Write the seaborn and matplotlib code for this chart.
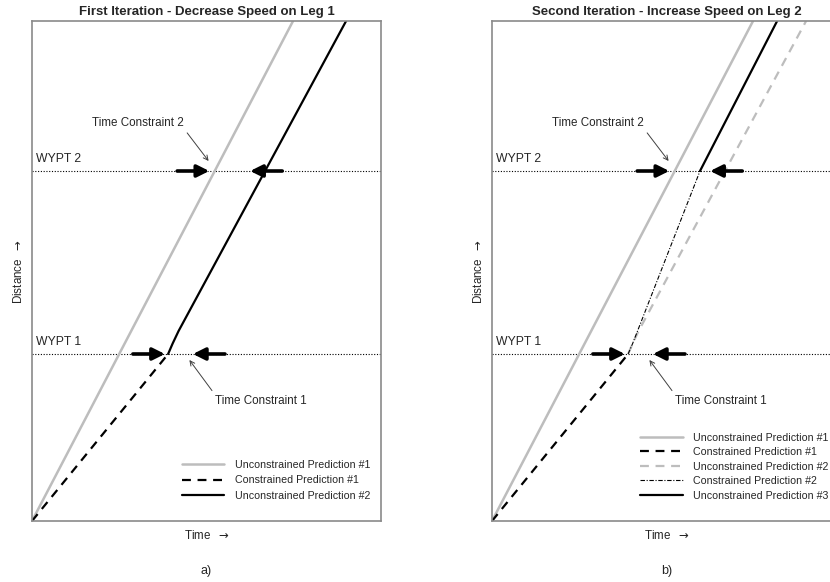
import matplotlib
matplotlib.use('Agg')
import matplotlib.pyplot as plt
import pandas as pd
import seaborn as sns

# distance/time in arbitrary units (axes span 0..100 on both)
wypt_names = ['WYPT 1', 'WYPT 2']
wypt_dist = [33.4, 70.0]
window_open = [38.1, 50.8]    # earliest allowed arrival time at each waypoint
window_close = [46.1, 62.5]   # latest allowed arrival time

unc1_time = [0.0, 74.8]
unc1_dist = [0.0, 100.0]
con1_time = [0.0, 39.0]
con1_dist = [0.0, 33.4]
unc2_time = [39.0, 40.3, 42.0, 90.0]
unc2_dist = [33.4, 35.5, 38.0, 100.0]
con2_time = [39.0, 40.3, 59.6]
con2_dist = [33.4, 35.5, 70.0]
unc3_time = [59.6, 81.7]
unc3_dist = [70.0, 100.0]

GRAY = '#bdbdbd'
SPINE = '#8a8a8a'
FONT = ['Liberation Sans', 'DejaVu Sans']
ARROW = r'$\rightarrow$'

sns.set_style('white')
plt.rcParams['font.family'] = FONT
plt.rcParams['font.size'] = 8.4
plt.rcParams['mathtext.fontset'] = 'dejavusans'

series = {
    'Unconstrained Prediction #1': (unc1_time, unc1_dist, dict(color=GRAY, lw=1.8, linestyle='-')),
    'Constrained Prediction #1': (con1_time, con1_dist, dict(color='black', lw=1.6, linestyle=(0, (4, 3)))),
    'Unconstrained Prediction #2': (unc2_time, unc2_dist, dict(color='black', lw=1.6, linestyle='-')),
    'Unconstrained Prediction #2 (b)': (unc2_time, unc2_dist, dict(color=GRAY, lw=1.6, linestyle=(0, (4, 3)))),
    'Constrained Prediction #2': (con2_time, con2_dist, dict(color='black', lw=0.8, linestyle=(0, (4, 1.5, 1, 1.5)))),
    'Unconstrained Prediction #3': (unc3_time, unc3_dist, dict(color='black', lw=1.6, linestyle='-')),
}


def draw_series(ax, key):
    t, d, style = series[key]
    label = key.replace(' (b)', '')
    sns.lineplot(data=pd.DataFrame({'time': t, 'dist': d}), x='time', y='dist', ax=ax,
                 sort=False, estimator=None, label=label, **style)


def decorate(ax, title, tag):
    ax.set_xlim(0, 100)
    ax.set_ylim(0, 100)
    ax.set_xticks([])
    ax.set_yticks([])
    for sp in ax.spines.values():
        sp.set_color(SPINE)
        sp.set_linewidth(1.2)
    ax.set_title(title, fontweight='bold', fontsize=9.5, pad=4)
    ax.set_xlabel('Time  ' + ARROW, labelpad=6)
    ax.set_ylabel('Distance  ' + ARROW, labelpad=5)
    ax.text(0.5, -0.1, tag, transform=ax.transAxes, ha='center', va='center', fontsize=9)
    for name, d, lo, hi in zip(wypt_names, wypt_dist, window_open, window_close):
        ax.axhline(d, color='black', lw=0.8, linestyle=(0, (1, 1.5)), zorder=1)
        ax.text(1.2, d + 1.2, name, ha='left', va='bottom', fontsize=8.8)
        arr = dict(arrowstyle='-|>', color='black', lw=2.6, mutation_scale=18, shrinkA=0, shrinkB=0)
        ax.annotate('', xy=(lo, d), xytext=(lo - 9.2, d), arrowprops=arr, zorder=5)
        ax.annotate('', xy=(hi, d), xytext=(hi + 9.2, d), arrowprops=arr, zorder=5)
    thin = dict(arrowstyle='->', color='#404040', lw=0.7, shrinkA=1, shrinkB=0)
    ax.annotate('Time Constraint 2', xy=(window_open[1] - 0.2, wypt_dist[1] + 2),
                xytext=(43.5, 79.7), ha='right', va='center',
                arrowprops=dict(thin, relpos=(1, 0)))
    ax.annotate('Time Constraint 1', xy=(window_open[0] + 7, wypt_dist[0] - 1.2),
                xytext=(52.5, 24), ha='left', va='center',
                arrowprops=dict(thin, relpos=(0, 1)))


fig = plt.figure(figsize=(8.3, 5.82), dpi=100)
ax_a = fig.add_axes([32 / 830, 61 / 582, 349 / 830, 500 / 582])
ax_b = fig.add_axes([492 / 830, 61 / 582, 349 / 830, 500 / 582])

for key in ['Unconstrained Prediction #1', 'Constrained Prediction #1', 'Unconstrained Prediction #2']:
    draw_series(ax_a, key)
for key in ['Unconstrained Prediction #1', 'Constrained Prediction #1', 'Unconstrained Prediction #2 (b)',
            'Constrained Prediction #2', 'Unconstrained Prediction #3']:
    draw_series(ax_b, key)

decorate(ax_a, 'First Iteration - Decrease Speed on Leg 1', 'a)')
decorate(ax_b, 'Second Iteration - Increase Speed on Leg 2', 'b)')

ax_a.legend(loc='lower left', bbox_to_anchor=(0.415, 0.03), frameon=False, borderpad=0,
            handlelength=3.9, handletextpad=1.0, labelspacing=0.5, fontsize=7.7)
ax_b.legend(loc='lower left', bbox_to_anchor=(0.41, 0.03), frameon=False, borderpad=0,
            handlelength=4.0, handletextpad=0.9, labelspacing=0.42, fontsize=7.7)

fig.savefig('out.png', dpi=100)
